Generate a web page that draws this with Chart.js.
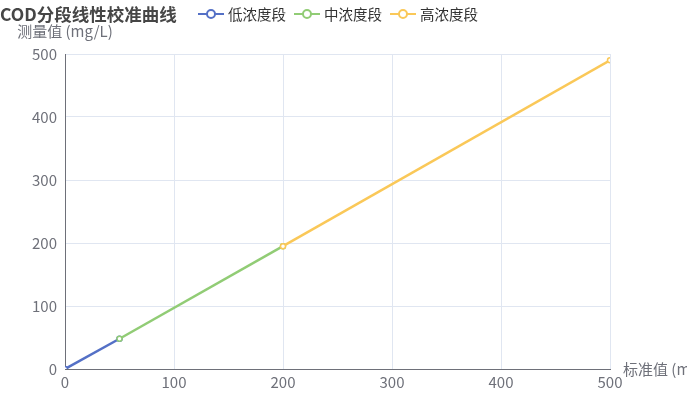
<!DOCTYPE html>
<html>
<head>
<meta charset="utf-8">
<script src="https://cdn.jsdelivr.net/npm/chart.js@4"></script>
<style>
  html, body { margin: 0; padding: 0; background: #fff; }
  #wrap { width: 687px; height: 396px; position: relative; }
</style>
</head>
<body>
<div id="wrap"><canvas id="chart"></canvas></div>
<script>
const seriesNames = ['低浓度段', '中浓度段', '高浓度段'];
const seriesColors = ['#5470c6', '#91cc75', '#fac858'];
const lowX = [0, 50];
const lowY = [0, 48];
const midX = [50, 200];
const midY = [48, 195];
const highX = [200, 500];
const highY = [195, 490];
const xTicks = [0, 100, 200, 300, 400, 500];
const yTicks = [0, 100, 200, 300, 400, 500];

const FONT = '"Noto Sans CJK SC", "Noto Sans", sans-serif';

function toPoints(xs, ys) {
    return xs.map((x, i) => ({ x: x, y: ys[i] }));
}

const allData = [toPoints(lowX, lowY), toPoints(midX, midY), toPoints(highX, highY)];

const overlay = {
    id: 'overlay',
    afterDraw(chart) {
        const ctx = chart.ctx;
        const area = chart.chartArea;
        ctx.save();
        // title
        ctx.fillStyle = '#464646';
        ctx.font = 'bold 17.5px ' + FONT;
        ctx.textBaseline = 'middle';
        ctx.textAlign = 'left';
        ctx.fillText('COD分段线性校准曲线', 0, 14);
        // legend
        ctx.font = '14.5px ' + FONT;
        let lx = 198;
        seriesNames.forEach((name, i) => {
            ctx.strokeStyle = seriesColors[i];
            ctx.lineWidth = 2;
            ctx.beginPath();
            ctx.moveTo(lx, 14);
            ctx.lineTo(lx + 26, 14);
            ctx.stroke();
            ctx.fillStyle = '#fff';
            ctx.beginPath();
            ctx.arc(lx + 13, 14, 4, 0, Math.PI * 2);
            ctx.fill();
            ctx.stroke();
            ctx.fillStyle = '#333';
            ctx.fillText(name, lx + 30, 14);
            lx += 30 + ctx.measureText(name).width + 8;
        });
        // axis names
        ctx.fillStyle = '#6e7079';
        ctx.font = '15px ' + FONT;
        ctx.textAlign = 'center';
        ctx.fillText('测量值 (mg/L)', area.left, 31);
        ctx.textAlign = 'left';
        ctx.fillText('标准值 (mg/L)', area.right + 13, area.bottom);
        ctx.restore();
    }
};

new Chart(document.getElementById('chart'), {
    type: 'line',
    data: {
        datasets: seriesNames.map((name, i) => ({
            label: name,
            data: allData[i],
            order: seriesNames.length - i,
            borderColor: seriesColors[i],
            backgroundColor: '#fff',
            borderWidth: 2.5,
            pointRadius: 2.5,
            pointBorderWidth: 1.5,
            pointBorderColor: seriesColors[i],
            pointBackgroundColor: '#fff',
            tension: 0
        }))
    },
    options: {
        responsive: true,
        maintainAspectRatio: false,
        animation: false,
        layout: { padding: { top: 54, right: 77, left: 0, bottom: 0 } },
        plugins: {
            legend: { display: false },
            title: { display: false },
            tooltip: { enabled: false }
        },
        scales: {
            x: {
                type: 'linear',
                min: 0,
                max: 500,
                afterBuildTicks(scale) { scale.ticks = xTicks.map(v => ({ value: v })); },
                afterFit(scale) { scale.height = 27; },
                grid: { color: '#e0e6f1', drawTicks: false },
                border: { color: '#6e7079' },
                ticks: { color: '#6e7079', font: { size: 15, family: FONT }, padding: 4 }
            },
            y: {
                type: 'linear',
                min: 0,
                max: 500,
                afterBuildTicks(scale) { scale.ticks = yTicks.map(v => ({ value: v })); },
                afterFit(scale) { scale.width = 65; },
                grid: { color: '#e0e6f1', drawTicks: false },
                border: { color: '#6e7079' },
                ticks: { color: '#6e7079', font: { size: 15, family: FONT }, padding: 8 }
            }
        }
    },
    plugins: [overlay]
});
</script>
</body>
</html>
